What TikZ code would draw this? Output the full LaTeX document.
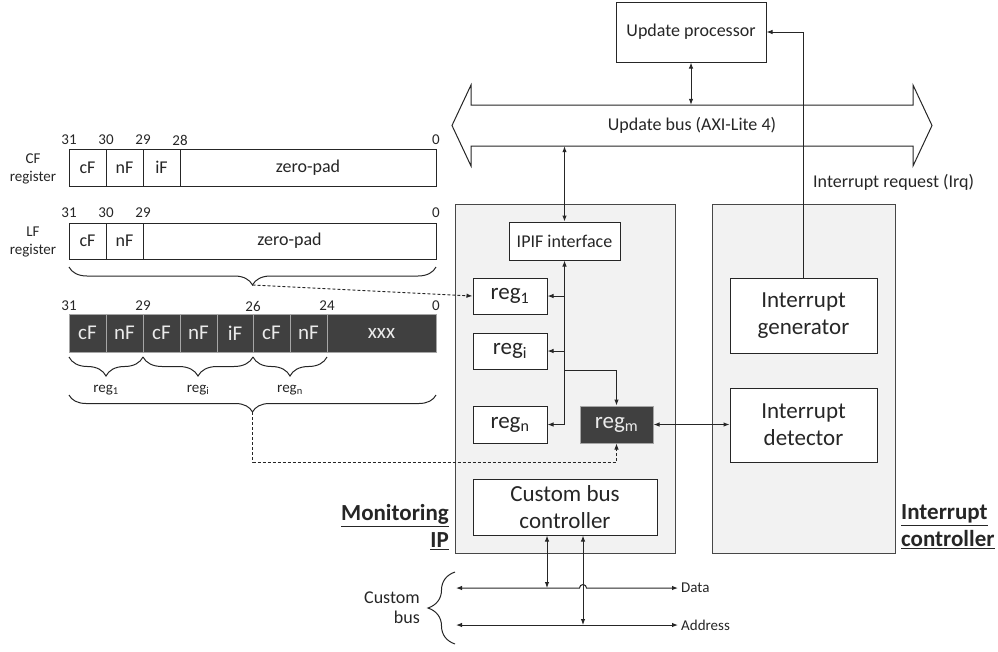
\documentclass[tikz,border=0pt]{standalone}
\usepackage{fontspec}
\setmainfont{Carlito}
\usetikzlibrary{arrows.meta,decorations.pathreplacing,calc}
\definecolor{boxgray}{HTML}{F2F2F2}
\definecolor{darkreg}{HTML}{404040}
\definecolor{inkc}{HTML}{262626}
\newcommand\fsBig{\fontsize{23}{27}\selectfont}
\newcommand\fsMed{\fontsize{18}{21}\selectfont}
\newcommand\fsCell{\fontsize{18}{21}\selectfont}
\newcommand\fsBar{\fontsize{21}{24}\selectfont}
\newcommand\fsSmall{\fontsize{15}{18}\selectfont}
\tikzset{
  >={Latex[length=6pt,width=4.5pt]},
  blk/.style={draw=inkc,fill=white,line width=1pt,inner sep=0pt,align=center,text=inkc},
  cont/.style={draw=inkc!85,fill=boxgray,line width=1pt,inner sep=0pt},
  cell/.style={draw=inkc,fill=white,line width=1pt,inner sep=0pt,text=inkc,font=\fsCell},
  dcell/.style={draw=gray!70,fill=darkreg,line width=1pt,inner sep=0pt,text=white!92!black,font=\fsBar},
  bitno/.style={inner sep=0pt,text=inkc,font=\fsSmall},
  lbl/.style={inner sep=0pt,text=inkc,align=center},
  brc/.style={draw=inkc,line width=1pt,decorate,decoration={brace,mirror,amplitude=#1}},
  wire/.style={draw=inkc,line width=1pt},
  dwire/.style={draw=inkc,line width=0.9pt,densely dashed}
}
\begin{document}
\begin{tikzpicture}[x=1pt,y=-1pt]
\useasboundingbox (0,0) rectangle (998,651);

\node[lbl,font=\fsSmall] (cflab) at (33,169) {CF\\register};
\node[bitno] (cfb31) at (69,140) {31};
\node[bitno] (cfb30) at (106,140) {30};
\node[bitno] (cfb29) at (143,140) {29};
\node[bitno] (cfb28) at (180,140) {28};
\node[bitno] (cfb0) at (436,140) {0};
\node[cell,minimum width=37,minimum height=37] (cfc) at (87.5,167.5) {cF};
\node[cell,minimum width=37,minimum height=37] (cfn) at (124.5,167.5) {nF};
\node[cell,minimum width=37,minimum height=37] (cfi) at (161.5,167.5) {iF};
\node[cell,minimum width=256,minimum height=37] (cfz) at (308,167.5) {zero-pad};

\node[lbl,font=\fsSmall] (lflab) at (33,242) {LF\\register};
\node[bitno] (lfb31) at (69,213) {31};
\node[bitno] (lfb30) at (106,213) {30};
\node[bitno] (lfb29) at (143,213) {29};
\node[bitno] (lfb0) at (436,213) {0};
\node[cell,minimum width=37,minimum height=36] (lfc) at (87.5,241) {cF};
\node[cell,minimum width=37,minimum height=36] (lfn) at (124.5,241) {nF};
\node[cell,minimum width=293,minimum height=36] (lfz) at (289.5,241) {zero-pad};
\path[brc=18] (69,267) -- (436,267);
\coordinate (lftip) at (252.5,285);

\node[bitno] (mb31) at (69,306) {31};
\node[bitno] (mb29) at (143,306) {29};
\node[bitno] (mb26) at (253,306) {26};
\node[bitno] (mb24) at (327,306) {24};
\node[bitno] (mb0) at (436,306) {0};
\node[dcell,minimum width=37,minimum height=38] (m1c) at (87.5,333) {cF};
\node[dcell,minimum width=37,minimum height=38] (m1n) at (124.5,333) {nF};
\node[dcell,minimum width=37,minimum height=38] (mic) at (161.5,333) {cF};
\node[dcell,minimum width=37,minimum height=38] (min) at (198.5,333) {nF};
\node[dcell,minimum width=36,minimum height=38] (mii) at (235,333) {iF};
\node[dcell,minimum width=37,minimum height=38] (mnc) at (271.5,333) {cF};
\node[dcell,minimum width=37,minimum height=38] (mnn) at (308.5,333) {nF};
\node[dcell,minimum width=109,minimum height=38] (mx) at (381.5,333) {xxx};
\path[brc=19] (69,357) -- (143,357);
\path[brc=19] (143,357) -- (253,357);
\path[brc=19] (253,357) -- (327,357);
\node[lbl,font=\fsSmall] (lab1) at (106,390) {reg\textsubscript{1}};
\node[lbl,font=\fsSmall] (labi) at (198,390) {reg\textsubscript{i}};
\node[lbl,font=\fsSmall] (labn) at (290,390) {reg\textsubscript{n}};
\path[brc=17] (69,395) -- (436,395);
\coordinate (bigtip) at (252.5,412);
\coordinate (dbend) at (252.5,462);

\node[blk,font=\fsMed,minimum width=150,minimum height=60] (proc) at (691,32) {Update processor};
\path[draw=inkc,line width=1pt,fill=white] (471,105) -- (913,105) -- (913,85) -- (932,125.5) -- (913,166) -- (913,146) -- (471,146) -- (471,166) -- (452,125.5) -- (471,85) -- cycle;
\node[lbl,font=\fsMed,minimum width=442,minimum height=41] (bus) at (692,125.5) {Update bus (AXI-Lite 4)};
\node[lbl,font=\fsMed,anchor=west] (irq) at (813,182) {Interrupt request (Irq)};

\node[cont,minimum width=220,minimum height=349] (mip) at (565,378.5) {};
\node[cont,minimum width=183,minimum height=349] (ic) at (803.5,378.5) {};
\node[lbl,font=\fsBig\bfseries,align=right,anchor=east] (miplab) at (449,527) {\underline{Monitoring}\\\underline{IP}};
\node[lbl,font=\fsBig\bfseries,align=left,anchor=west] (iclab) at (901,527) {\underline{Interrupt}\\\underline{controller}};

\node[blk,font=\fsMed,minimum width=111,minimum height=38] (ipif) at (564.5,241) {IPIF interface};
\node[blk,font=\fsBig,minimum width=74,minimum height=36] (reg1) at (510,296) {reg\textsubscript{1}};
\node[blk,font=\fsBig,minimum width=74,minimum height=36] (regi) at (510,351) {reg\textsubscript{i}};
\node[blk,font=\fsBig,minimum width=74,minimum height=37] (regn) at (510,424.5) {reg\textsubscript{n}};
\node[blk,font=\fsBig,draw=gray!70,fill=darkreg,text=white!92!black,minimum width=73,minimum height=37] (regm) at (616.5,424.5) {reg\textsubscript{m}};
\node[blk,font=\fsBig,minimum width=184,minimum height=56] (cbc) at (565,507) {Custom bus\\controller};
\node[blk,font=\fsBig,minimum width=147,minimum height=75] (gen) at (803.5,315.5) {Interrupt\\generator};
\node[blk,font=\fsBig,minimum width=147,minimum height=74] (det) at (803.5,425) {Interrupt\\detector};

\coordinate (jn) at (ipif.south |- regn.east);
\coordinate (br) at (564.5,370);
\path[wire,<->] (proc.south) -- (proc.south |- bus.north);
\path[wire,<->] (ipif.north) -- (ipif.north |- bus.south);
\path[wire,->] (gen.north) |- (proc.east);
\path[wire,<-] (ipif.south) -- (jn);
\path[wire,->] (ipif.south |- reg1.east) -- (reg1.east);
\path[wire,->] (ipif.south |- regi.east) -- (regi.east);
\path[wire,->] (jn) -- (regn.east);
\path[wire,->] (br) -| (regm.north);
\path[wire,<->] (regm.east) -- (regm.east -| det.west);
\path[dwire,->] (lftip) -- (reg1.west);
\path[dwire,->] (bigtip) -- (dbend) -| (regm.south);

\coordinate (dl) at (456,588);
\coordinate (dr) at (678,588);
\coordinate (al) at (456,625);
\coordinate (ar) at (678,625);
\coordinate (dtap) at (547,588);
\coordinate (atap) at (583,625);
\path[wire,<->] (dl) -- ($(atap |- dl)+(-3.5,0)$) arc[start angle=180,end angle=360,radius=3.5] -- (dr);
\path[wire,<->] (al) -- (ar);
\path[wire,<->] (dtap |- cbc.south) -- (dtap);
\path[wire,<->] (atap |- cbc.south) -- (atap);
\node[lbl,font=\fsSmall,anchor=west] (dlab) at (681,588) {Data};
\node[lbl,font=\fsSmall,anchor=west] (alab) at (681,625) {Address};
\path[brc=27] (455,572) -- (455,644);
\node[lbl,font=\fontsize{18}{20}\selectfont,align=right,anchor=east] (cblab) at (420,608) {Custom\\bus};
\end{tikzpicture}
\end{document}
